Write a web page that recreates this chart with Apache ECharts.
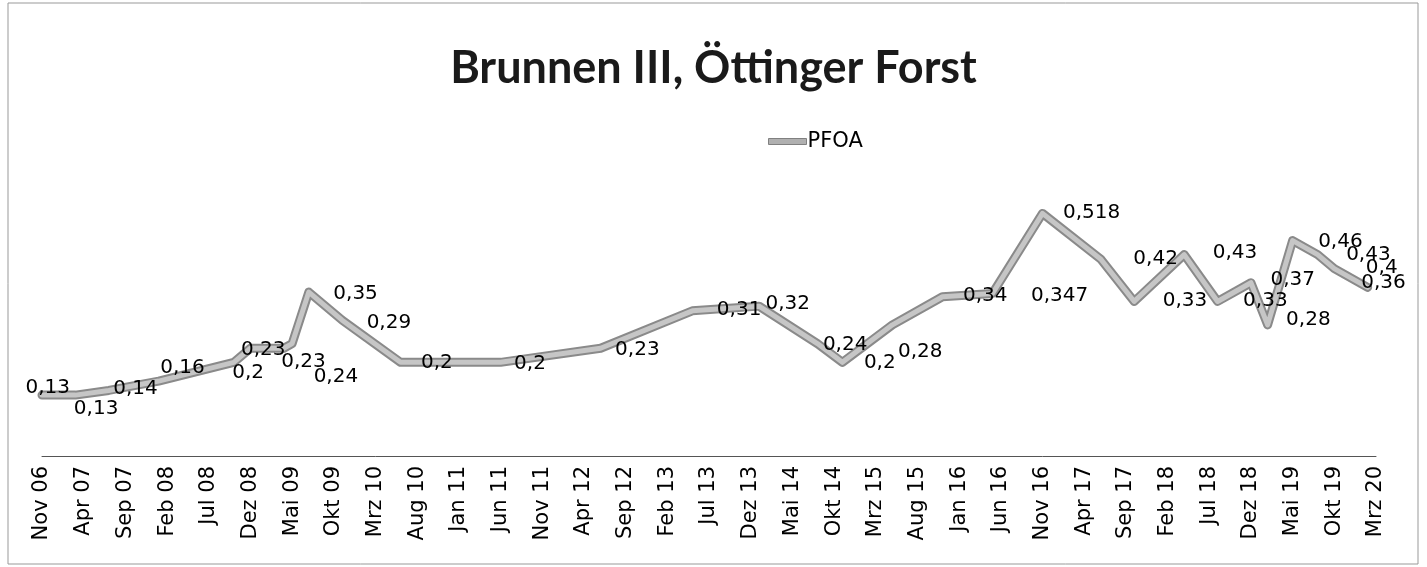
<!DOCTYPE html>
<html><head><meta charset="utf-8">
<script src="https://cdn.jsdelivr.net/npm/echarts@6/dist/echarts.min.js"></script>
<style>html,body{margin:0;padding:0;background:#fff}#c{width:1427px;height:567px}</style>
</head><body><div id="c"></div>
<script>
const tickLabels = ['Nov 06','Apr 07','Sep 07','Feb 08','Jul 08','Dez 08','Mai 09','Okt 09','Mrz 10','Aug 10','Jan 11','Jun 11','Nov 11','Apr 12','Sep 12','Feb 13','Jul 13','Dez 13','Mai 14','Okt 14','Mrz 15','Aug 15','Jan 16','Jun 16','Nov 16','Apr 17','Sep 17','Feb 18','Jul 18','Dez 18','Mai 19','Okt 19','Mrz 20'];
const sampleDates = ['2006-11','2007-03','2007-07','2008-01','2008-10','2008-12','2009-04','2009-05','2009-07','2009-11','2010-06','2011-06','2012-06','2013-05','2014-01','2014-08','2014-11','2015-05','2015-11','2016-05','2016-11','2017-06','2017-10','2018-04','2018-08','2018-12','2019-02','2019-05','2019-08','2019-10','2020-02'];
const pfoaValues = [0.13,0.13,0.14,0.16,0.2,0.23,0.23,0.24,0.35,0.29,0.2,0.2,0.23,0.31,0.32,0.24,0.2,0.28,0.34,0.347,0.518,0.42,0.33,0.43,0.33,0.37,0.28,0.46,0.43,0.4,0.36];
const labelOffsets = [[-37,-7],[-22,14],[-16,-2],[-19,-13],[-22,10],[-30,2],[-23,14],[1,33],[4,2],[4,3],[0,0],[-7,1],[-6,2],[4,-1],[-14,-2],[-15,1],[1,0],[-15,27],[0,-1],[18,2],[0,-1],[12,-1],[8,-1],[8,-2],[5,-1],[-1,-3],[-2,-5],[5,1],[8,0],[11,-1],[-27,-5]];

const START_Y = 2006, START_M = 11;
function monthIndex(s){ const p = s.split('-').map(Number); return (p[0]-START_Y)*12 + (p[1]-START_M); }
const pts = sampleDates.map((d,i)=>[monthIndex(d), pfoaValues[i]]);

const chart = echarts.init(document.getElementById('c'));
chart.setOption({
  animation:false,
  backgroundColor:'#fff',
  title:{text:'Brunnen III, Öttinger Forst', left:'center', top:41,
    textStyle:{fontFamily:'Lato', fontWeight:'bold', fontSize:45, color:'#1a1a1a'}},
  legend:{data:[{name:'PFOA', icon:'rect'}], left:763, top:126, itemWidth:38, itemHeight:6, itemGap:6,
    itemStyle:{color:'#b0b0b0', borderColor:'#808080', borderWidth:1},
    textStyle:{fontFamily:'DejaVu Sans', fontSize:21, color:'#000', padding:[0,0,0,-4]}},
  graphic:[{type:'rect', shape:{x:8, y:3, width:1410, height:561}, style:{fill:'none', stroke:'#999', lineWidth:1}, silent:true}],
  grid:{left:42, right:51, top:175, bottom:111},
  xAxis:{type:'value', min:0, max:160, interval:5,
    axisLine:{show:true, lineStyle:{color:'#555', width:1}},
    axisTick:{show:false}, splitLine:{show:false},
    axisLabel:{rotate:90, margin:10, hideOverlap:false, fontFamily:'DejaVu Sans', fontSize:21, color:'#000',
      formatter:v=>tickLabels[Math.round(v/5)] || ''}},
  yAxis:{type:'value', min:0, max:0.6, interval:0.1, show:false},
  series:[
    {name:'outline', type:'line', data:pts, symbol:'none', silent:true, z:2,
     lineStyle:{color:'#8a8a8a', width:9, cap:'round', join:'round'}},
    {name:'PFOA', type:'line', symbol:'circle', symbolSize:1, showSymbol:true, z:3,
     data:pts,
     lineStyle:{color:'#c6c6c6', width:5, cap:'round', join:'round'},
     itemStyle:{color:'rgba(0,0,0,0)', borderWidth:0},
     label:{show:true, position:'right', distance:20, fontFamily:'DejaVu Sans', fontSize:20, color:'#000',
       formatter:p=>String(p.value[1]).replace('.', ',')},
     labelLayout:function(params){
       const o = labelOffsets[params.dataIndex] || [0,0];
       return {dx:o[0], dy:o[1], hideOverlap:false};
     }}
  ]
});
</script></body></html>
